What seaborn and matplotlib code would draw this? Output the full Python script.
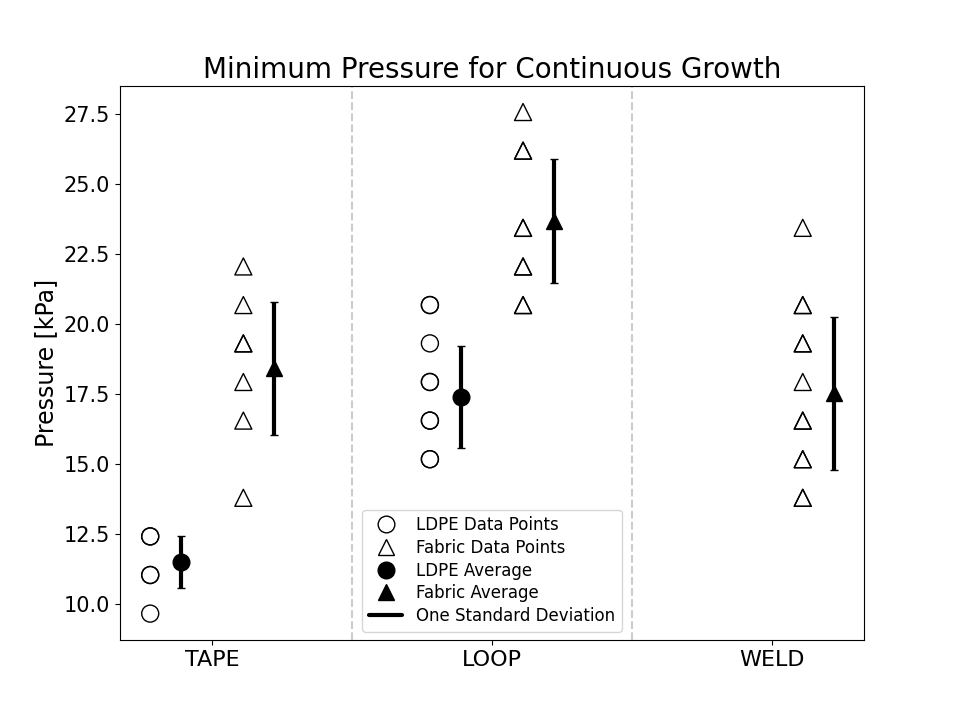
import seaborn as sns
import matplotlib.pyplot as plt
from matplotlib.lines import Line2D
import pandas as pd

sns.set_style('ticks', {'text.color': 'black', 'axes.labelcolor': 'black',
                        'xtick.color': 'black', 'ytick.color': 'black',
                        'axes.edgecolor': 'black',
                        'xtick.major.size': 3.5, 'ytick.major.size': 3.5})
plt.rcParams['font.family'] = ['DejaVu Sans']

# Data (kPa)
joints = ['TAPE', 'LOOP', 'WELD']
ldpe_points = {
    'TAPE': [12.41, 12.41, 11.03, 11.03, 9.65],
    'LOOP': [20.68, 20.68, 19.31, 17.93, 17.93, 16.55, 16.55, 15.17, 15.17],
    'WELD': [],
}
fabric_points = {
    'TAPE': [22.06, 20.68, 19.31, 19.31, 17.93, 16.55, 13.79],
    'LOOP': [27.58, 26.20, 26.20, 23.44, 23.44, 22.06, 22.06, 20.68, 20.68],
    'WELD': [23.44, 20.68, 20.68, 19.31, 19.31, 17.93, 16.55, 16.55,
             15.17, 15.17, 13.79, 13.79],
}
ldpe_mean = [11.49, 17.40, None]
ldpe_std = [0.92, 1.83, None]
fabric_mean = [18.42, 23.69, 17.52]
fabric_std = [2.38, 2.21, 2.72]

offset = 0.111

rows = []
for i, j in enumerate(joints):
    for v in ldpe_points[j]:
        rows.append({'x': i - 2 * offset, 'p': v, 'mat': 'LDPE'})
    for v in fabric_points[j]:
        rows.append({'x': i + offset, 'p': v, 'mat': 'Fabric'})
df = pd.DataFrame(rows)

fig, ax = plt.subplots(figsize=(9.6, 7.19), dpi=100)

for xv in [0.5, 1.5]:
    ax.axvline(xv, color='#cccccc', linestyle='--', lw=1.5, zorder=0)

sns.scatterplot(data=df[df.mat == 'LDPE'], x='x', y='p', marker='o',
                s=150, facecolor='none', edgecolor='black', linewidth=1,
                ax=ax, legend=False)
sns.scatterplot(data=df[df.mat == 'Fabric'], x='x', y='p', marker='^',
                s=150, facecolor='none', edgecolor='black', linewidth=1,
                ax=ax, legend=False)

for i in range(len(joints)):
    if ldpe_mean[i] is not None:
        ax.errorbar(i - offset, ldpe_mean[i], yerr=ldpe_std[i], fmt='o',
                    color='black', markersize=12, elinewidth=3,
                    capsize=3, capthick=1)
    ax.errorbar(i + 2 * offset, fabric_mean[i], yerr=fabric_std[i], fmt='^',
                color='black', markersize=12, elinewidth=3,
                capsize=3, capthick=1)

ax.set_xlim(-0.33, 2.33)
ax.set_ylim(8.71, 28.5)
ax.set_xticks(range(len(joints)))
ax.set_xticklabels(joints, fontsize=16)
ax.tick_params(axis='y', labelsize=15)
ax.set_xlabel('')
ax.set_ylabel('Pressure [kPa]', fontsize=17)
ax.set_title('Minimum Pressure for Continuous Growth', fontsize=20)

handles = [
    Line2D([], [], marker='o', ls='none', markerfacecolor='none',
           markeredgecolor='black', markersize=12),
    Line2D([], [], marker='^', ls='none', markerfacecolor='none',
           markeredgecolor='black', markersize=12),
    Line2D([], [], marker='o', ls='none', color='black', markersize=12),
    Line2D([], [], marker='^', ls='none', color='black', markersize=12),
    Line2D([], [], color='black', lw=3),
]
labels = ['LDPE Data Points', 'Fabric Data Points', 'LDPE Average',
          'Fabric Average', 'One Standard Deviation']
ax.legend(handles, labels, loc='lower center', fontsize=12,
          labelspacing=0.28)

plt.savefig('out.png', dpi=100)
